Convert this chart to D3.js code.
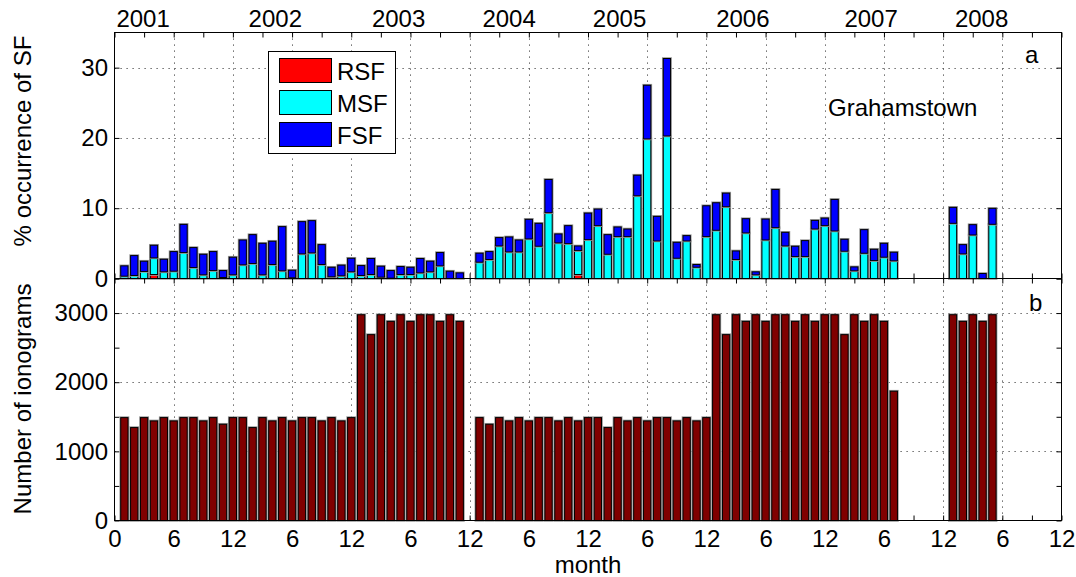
<!DOCTYPE html>
<html><head><meta charset="utf-8">
<script src="https://cdn.jsdelivr.net/npm/d3@7"></script>
<style>
html,body{margin:0;padding:0;background:#fff;}
svg text{font-family:"Liberation Sans",Arial,Helvetica,sans-serif;fill:#000;}
</style></head><body>
<svg id="chart" width="1076" height="577"></svg>
<script>
// Month index counted from January 2001 (1 = Jan 2001); null = no data
const months = [1,2,3,4,5,6,7,8,9,10,11,12,13,14,15,16,17,18,19,20,21,22,23,24,
  25,26,27,28,29,30,31,32,33,34,35,36,37,38,39,40,41,42,43,44,45,46,47,48,
  49,50,51,52,53,54,55,56,57,58,59,60,61,62,63,64,65,66,67,68,69,70,71,72,
  73,74,75,76,77,78,79,80,81,82,83,84,85,86,87,88,89];

// % occurrence of spread F, by type
const rsf = [0,0,0,0.57,0,0,0,0,0,0,0,0, 0,0,0,0,0,0,0,0,0,0,0,0,
  0,0,0,0,0,0,0,0,0,0,0,null, 0,0,0,0,0,0,0,0,0,0,0.57,0,
  0,0,0,0,0,0,0,0,0,0,0,0, 0,0,0,0,0,0,0,0,0,0,0,0,
  0,0,0,0,0,0,0,null,null,null,null,null, 0,0,0,0,0];
const msf = [0.33,0.43,1.00,2.36,0.95,1.04,3.69,1.56,0.52,1.13,0.14,0.52,
  1.94,2.13,0.52,1.99,1.09,0.10,3.50,3.64,1.99,0.24,0.38,0.95,
  0.43,0.57,0.19,0.05,0.57,0.57,0.80,0.95,1.80,0,0,null,
  2.32,2.70,4.63,3.78,3.78,5.63,4.59,9.36,5.06,4.96,3.40,5.53,
  7.52,3.45,5.96,5.96,11.77,19.86,5.34,20.28,2.88,5.34,1.60,5.96,
  6.86,10.21,2.70,6.48,0.52,5.48,7.23,4.63,3.12,3.12,7.04,7.52,
  6.76,3.88,1.09,3.59,2.55,3.03,2.51,null,null,null,null,null,
  7.85,3.50,6.19,0,7.71];
const fsf = [1.47,2.83,1.46,1.80,1.79,2.79,4.01,2.84,2.93,2.70,0.99,2.51,
  3.54,4.11,4.49,3.31,6.29,1.08,4.59,4.59,2.83,1.36,1.52,1.93,
  1.41,2.27,1.56,1.08,1.13,1.03,2.04,1.51,1.89,1.04,0.80,null,
  1.28,1.13,1.19,2.13,1.70,2.79,3.26,4.73,1.28,2.56,0.66,3.78,
  2.36,2.79,1.37,1.08,2.93,7.64,3.50,11.02,2.27,0.76,0.39,4.39,
  3.92,1.94,1.22,2.03,0.43,2.98,5.44,1.94,1.47,2.27,1.23,1.08,
  4.49,1.70,0.56,3.36,1.61,1.98,1.23,null,null,null,null,null,
  2.27,1.32,1.47,0.71,2.27];

// Number of ionograms recorded per month
const ionograms = [1488,1344,1488,1440,1488,1440,1488,1488,1440,1488,1392,1488,
  1488,1344,1488,1440,1488,1440,1488,1488,1440,1488,1440,1488,
  2976,2688,2976,2880,2976,2880,2976,2976,2880,2976,2880,null,
  1488,1392,1488,1440,1488,1440,1488,1488,1440,1488,1440,1488,
  1488,1344,1488,1440,1488,1440,1488,1488,1440,1488,1440,1488,
  2976,2688,2976,2880,2976,2880,2976,2976,2880,2976,2880,2976,
  2976,2688,2976,2880,2976,2880,1870,null,null,null,null,null,
  2976,2880,2976,2880,2976];

const seriesNames = ["RSF","MSF","FSF"];
const seriesColors = ["#ff0000","#00ffff","#0000ff"];
const ionoColor = "#800000";

const yearLabels = ["2001","2002","2003","2004","2005","2006","2007","2008"];
const yearLabelMonth = [2.9,16.3,28.8,40.0,51.2,63.7,76.7,87.9];

const xTickMonths = [0,3,6,9,12,15,18,21,24,27,30,33,36,39,42,45,48,51,54,57,60,63,66,69,72,75,78,81,84,87,90,93,96];
const xGridMonths = [6,12,18,24,30,36,42,48,54,60,66,72,78,84,90];
const xTickLabels = ["0","6","12","6","12","6","12","6","12","6","12","6","12","6","12","6","12"];
const sfTicks = [0,10,20,30];
const ionoTicks = [0,500,1000,1500,2000,2500,3000,3500];
const ionoTickLabels = [0,1000,2000,3000];

// ---- layout ----
const svg = d3.select("#chart");
const FONT = 24;
const plotL = 114.5, plotR = 1061.5;
const topP = {t: 32.5, b: 278.5};
const botP = {t: 278.5, b: 520.5};

const x = d3.scaleLinear().domain([0, 96]).range([plotL, plotR]);
const ySF = d3.scaleLinear().domain([0, 35]).range([topP.b, topP.t]);
const yN = d3.scaleLinear().domain([0, 3500]).range([botP.b, botP.t]);
const step = x(1) - x(0);
const barW = step * 0.84 - 1;

function grid(g, y, yVals, panel) {
  const dash = "1.2,4.8";
  g.selectAll("line.gx").data(xGridMonths).join("line")
    .attr("x1", d => Math.round(x(d)) + 0.5).attr("x2", d => Math.round(x(d)) + 0.5)
    .attr("y1", panel.t).attr("y2", panel.b)
    .attr("stroke", "#444").attr("stroke-dasharray", dash);
  g.selectAll("line.gy").data(yVals).join("line")
    .attr("x1", plotL).attr("x2", plotR)
    .attr("y1", d => Math.round(y(d)) + 0.5).attr("y2", d => Math.round(y(d)) + 0.5)
    .attr("stroke", "#444").attr("stroke-dasharray", dash);
}

function styleAxis(g) {
  g.select(".domain").remove();
  g.attr("font-size", FONT).attr("font-family", "Liberation Sans, Arial, sans-serif");
  g.selectAll(".tick line").attr("stroke", "#000");
  g.selectAll(".tick text").attr("fill", "#000");
}

function panelAxes(panel, y, yTicks, yFmt, xLabels) {
  const g = svg.append("g");
  g.append("g").attr("transform", `translate(0,${panel.b})`)
    .call(d3.axisBottom(x).tickValues(xTickMonths).tickSize(-5).tickSizeOuter(0).tickPadding(9.5)
      .tickFormat(d => (xLabels && d % 6 === 0) ? xTickLabels[d / 6] : ""))
    .call(styleAxis);
  g.append("g").attr("transform", `translate(0,${panel.t})`)
    .call(d3.axisTop(x).tickValues(xTickMonths).tickSize(-5).tickSizeOuter(0).tickFormat(""))
    .call(styleAxis);
  g.append("g").attr("transform", `translate(${plotL},0)`)
    .call(d3.axisLeft(y).tickValues(yTicks).tickSize(-5).tickSizeOuter(0).tickPadding(6.5).tickFormat(yFmt))
    .call(styleAxis);
  g.append("g").attr("transform", `translate(${plotR},0)`)
    .call(d3.axisRight(y).tickValues(yTicks).tickSize(-5).tickSizeOuter(0).tickFormat(""))
    .call(styleAxis);
}

function box(panel) {
  svg.append("rect").attr("x", plotL).attr("y", panel.t)
    .attr("width", plotR - plotL).attr("height", panel.b - panel.t)
    .attr("fill", "none").attr("stroke", "#000").attr("stroke-width", 1);
}

// ---- panel a: stacked spread-F occurrence ----
grid(svg.append("g"), ySF, [10, 20, 30], topP);
panelAxes(topP, ySF, sfTicks, d => String(d), false);

const rows = months.map((m, i) => ({month: m, RSF: rsf[i], MSF: msf[i], FSF: fsf[i]}))
  .filter(d => d.RSF !== null);
const stacked = d3.stack().keys(seriesNames)(rows);
const gBars = svg.append("g");
stacked.forEach((layer, li) => {
  const segs = layer.filter(s => s[1] - s[0] > 0);
  gBars.append("g").selectAll("rect").data(segs).join("rect")
    .attr("x", s => x(s.data.month) - barW / 2)
    .attr("width", barW)
    .attr("y", s => ySF(s[1]))
    .attr("height", s => ySF(s[0]) - ySF(s[1]))
    .attr("fill", "none").attr("stroke", "#9a9a9a").attr("stroke-width", 2.6);
  gBars.append("g").selectAll("rect").data(segs).join("rect")
    .attr("x", s => x(s.data.month) - barW / 2)
    .attr("width", barW)
    .attr("y", s => ySF(s[1]))
    .attr("height", s => ySF(s[0]) - ySF(s[1]))
    .attr("fill", seriesColors[li]).attr("stroke", "#000").attr("stroke-width", 1);
});
box(topP);

// ---- panel b: ionogram counts ----
grid(svg.append("g"), yN, [1000, 2000, 3000], botP);
panelAxes(botP, yN, ionoTicks, d => ionoTickLabels.includes(d) ? String(d) : "", true);

const ionoRows = months.map((m, i) => ({month: m, n: ionograms[i]})).filter(d => d.n !== null);
const gIono = svg.append("g");
gIono.selectAll("rect.h").data(ionoRows).join("rect")
  .attr("x", d => x(d.month) - barW / 2).attr("width", barW)
  .attr("y", d => yN(d.n)).attr("height", d => yN(0) - yN(d.n))
  .attr("fill", "none").attr("stroke", "#9a9a9a").attr("stroke-width", 2.6);
gIono.selectAll("rect.b").data(ionoRows).join("rect")
  .attr("x", d => x(d.month) - barW / 2).attr("width", barW)
  .attr("y", d => yN(d.n)).attr("height", d => yN(0) - yN(d.n))
  .attr("fill", ionoColor).attr("stroke", "#000").attr("stroke-width", 1);
box(botP);

// ---- legend ----
const lg = svg.append("g");
lg.append("rect").attr("x", 268.5).attr("y", 51.5).attr("width", 127).attr("height", 102)
  .attr("fill", "#fff").attr("stroke", "#000");
seriesNames.forEach((name, i) => {
  const yy = 58.5 + i * 32;
  lg.append("rect").attr("x", 279.5).attr("y", yy).attr("width", 52).attr("height", 24)
    .attr("fill", seriesColors[i]).attr("stroke", "#000");
  lg.append("text").attr("x", 337).attr("y", yy + 21).attr("font-size", FONT).text(name);
});

// ---- annotations ----
svg.append("g").selectAll("text").data(yearLabels).join("text")
  .attr("x", (d, i) => x(yearLabelMonth[i])).attr("y", 27)
  .attr("text-anchor", "middle").attr("font-size", FONT).text(d => d);

svg.append("text").attr("x", 828).attr("y", 116).attr("font-size", FONT).text("Grahamstown");
svg.append("text").attr("x", 1025).attr("y", 63).attr("font-size", FONT).text("a");
svg.append("text").attr("x", 1029).attr("y", 311).attr("font-size", FONT).text("b");

svg.append("text").attr("x", (plotL + plotR) / 2).attr("y", 572.5)
  .attr("text-anchor", "middle").attr("font-size", FONT).text("month");
svg.append("text").attr("transform", "translate(31,141) rotate(-90)")
  .attr("text-anchor", "middle").attr("font-size", FONT).text("% occurrence of SF");
svg.append("text").attr("transform", "translate(31,399) rotate(-90)")
  .attr("text-anchor", "middle").attr("font-size", FONT).text("Number of ionograms");
</script>
</body></html>
